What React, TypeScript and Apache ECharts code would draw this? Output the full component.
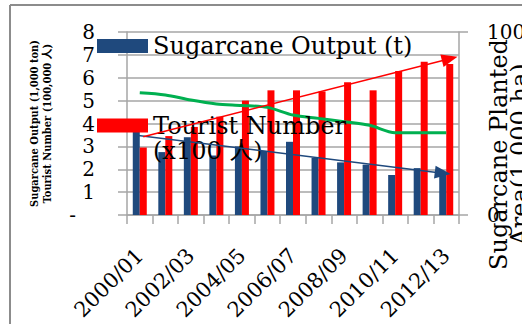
import React, { useEffect, useRef } from "react";
import * as echarts from "echarts";

// Fiscal years on the category axis
const categories = [
  "2000/01", "2001/02", "2002/03", "2003/04", "2004/05", "2005/06", "2006/07",
  "2007/08", "2008/09", "2009/10", "2010/11", "2011/12", "2012/13",
];

// Sugarcane output (1,000 ton), left axis
const sugarcaneOutput = [3.7, 2.75, 3.4, 2.6, 3.0, 2.8, 3.2, 2.5, 2.3, 2.2, 1.75, 2.05, 1.8];
// Tourist number (100,000 people), left axis
const touristNumber = [2.95, 3.45, 3.85, 4.3, 5.0, 5.45, 5.45, 5.4, 5.8, 5.45, 6.3, 6.7, 6.6];
// Sugarcane planted area (1,000 ha), right axis
const plantedArea = [66.8, 65.6, 62.8, 60.7, 59.9, 58.8, 54.6, 52.8, 51, 49, 45, 45, 45];

// Trend arrows: [category position, value] start and end
const outputTrend = [[-0.25, 3.49], [11.68, 1.83]];
const touristTrend = [[0, 3.42], [11.72, 6.83]];

// Left axis tick labels (0 is shown as a dash)
const leftTicks = ["-   ", "1", "2", "3", "4", "5", "6", "7", "8"];

const outputName = "Sugarcane Output (t)";
const touristName = "Tourist Number\n(x100 人)";

const SERIF = "'DejaVu Serif', 'Noto Sans CJK SC', serif";
const GRID_GRAY = "#a6a6a6";
const BLUE = "#1F497D";
const RED = "#FF0000";
const GREEN = "#00B050";

export default function App() {
  const ref = useRef<HTMLDivElement>(null);

  useEffect(() => {
    if (!ref.current) return;
    const chart = echarts.init(ref.current, null, { renderer: "svg" });

    const trendLine = (pts: number[][], color: string) => ({
      silent: true,
      symbol: ["none", "triangle"],
      symbolSize: [13, 16],
      label: { show: false },
      emphasis: { disabled: true },
      lineStyle: { color, width: 1.5, type: "solid" },
      data: [[{ coord: pts[0] }, { coord: pts[1] }]],
    });

    const legendText = { fontFamily: SERIF, fontSize: 24, lineHeight: 25, color: "#000" };

    chart.setOption({
      animation: false,
      backgroundColor: "#ffffff",
      textStyle: { fontFamily: SERIF },
      grid: {
        left: 127,
        right: 63,
        top: 32,
        bottom: 109,
        containLabel: false,
        outerBoundsMode: "none",
      },
      legend: [
        {
          data: [outputName],
          left: 97,
          top: 33.5,
          padding: 0,
          icon: "rect",
          itemWidth: 51,
          itemHeight: 14,
          selectedMode: false,
          textStyle: legendText,
        },
        {
          data: [touristName],
          left: 97,
          top: 88,
          padding: 0,
          icon: "rect",
          itemWidth: 51,
          itemHeight: 14,
          selectedMode: false,
          // leading blank line keeps the first text line level with the swatch
          formatter: (name: string) => "\n" + name,
          textStyle: legendText,
        },
      ],
      xAxis: {
        type: "category",
        data: categories,
        boundaryGap: true,
        axisLine: { lineStyle: { color: GRID_GRAY, width: 1.5 } },
        axisTick: { show: true, interval: 0, length: 9, lineStyle: { color: GRID_GRAY, width: 1.5 } },
        axisLabel: {
          interval: 1,
          rotate: 45,
          margin: 37,
          fontFamily: SERIF,
          fontSize: 21,
          color: "#000",
        },
        splitLine: { show: false },
      },
      yAxis: [
        {
          type: "value",
          min: 0,
          max: 8,
          interval: 1,
          position: "left",
          name: "Sugarcane Output (1,000 ton)\nTourist Number (100,000 人)",
          nameLocation: "middle",
          nameRotate: 90,
          nameGap: 73,
          nameMoveOverlap: false,
          nameTextStyle: {
            fontFamily: "'DejaVu Serif Condensed', " + SERIF,
            fontWeight: "bold",
            fontSize: 11,
            lineHeight: 13,
            color: "#000",
          },
          axisLine: { show: true, lineStyle: { color: GRID_GRAY, width: 1.5 } },
          axisTick: { show: true, length: 9, lineStyle: { color: GRID_GRAY, width: 1.5 } },
          axisLabel: {
            margin: 32,
            fontFamily: SERIF,
            fontSize: 20,
            color: "#000",
            formatter: (v: number) => leftTicks[Math.round(v)] ?? String(v),
          },
          splitLine: { show: true, lineStyle: { color: GRID_GRAY, width: 1.5 } },
        },
        {
          type: "value",
          min: 0,
          max: 100,
          interval: 100,
          position: "right",
          name: "Sugarcane Planted\nArea(1,000 ha)",
          nameLocation: "middle",
          nameRotate: 90,
          nameGap: 29,
          nameMoveOverlap: false,
          nameTextStyle: {
            fontFamily: SERIF,
            fontSize: 24,
            lineHeight: 21,
            color: "#000",
            // extra trailing room moves the rotated title toward the bottom
            padding: [0, 62, 0, 0],
          },
          axisLine: { show: true, lineStyle: { color: GRID_GRAY, width: 1.5 } },
          axisTick: { show: true, length: 9, lineStyle: { color: GRID_GRAY, width: 1.5 } },
          axisLabel: { margin: 28, fontFamily: SERIF, fontSize: 20, color: "#000" },
          splitLine: { show: false },
        },
      ],
      series: [
        {
          name: outputName,
          type: "bar",
          yAxisIndex: 0,
          data: sugarcaneOutput,
          barWidth: 7,
          barGap: "0%",
          itemStyle: { color: BLUE },
          z: 2,
          markLine: trendLine(outputTrend, BLUE),
        },
        {
          name: touristName,
          type: "bar",
          yAxisIndex: 0,
          data: touristNumber,
          barWidth: 7,
          barGap: "0%",
          itemStyle: { color: RED },
          z: 2,
          markLine: trendLine(touristTrend, RED),
        },
        {
          name: "Sugarcane Planted Area",
          type: "line",
          yAxisIndex: 1,
          data: plantedArea,
          smooth: 0.3,
          symbol: "none",
          lineStyle: { color: GREEN, width: 3 },
          itemStyle: { color: GREEN },
          z: 3,
        },
      ],
      graphic: [
        {
          type: "line",
          shape: { x1: 10, y1: 5, x2: 522, y2: 5 },
          style: { stroke: "#8c8c8c", lineWidth: 2 },
          silent: true,
        },
        {
          type: "line",
          shape: { x1: 10, y1: 5, x2: 10, y2: 324 },
          style: { stroke: "#8c8c8c", lineWidth: 2 },
          silent: true,
        },
      ],
    });

    return () => chart.dispose();
  }, []);

  return (
    <div
      ref={ref}
      style={{ position: "absolute", left: 0, top: 0, width: 522, height: 324 }}
    />
  );
}
